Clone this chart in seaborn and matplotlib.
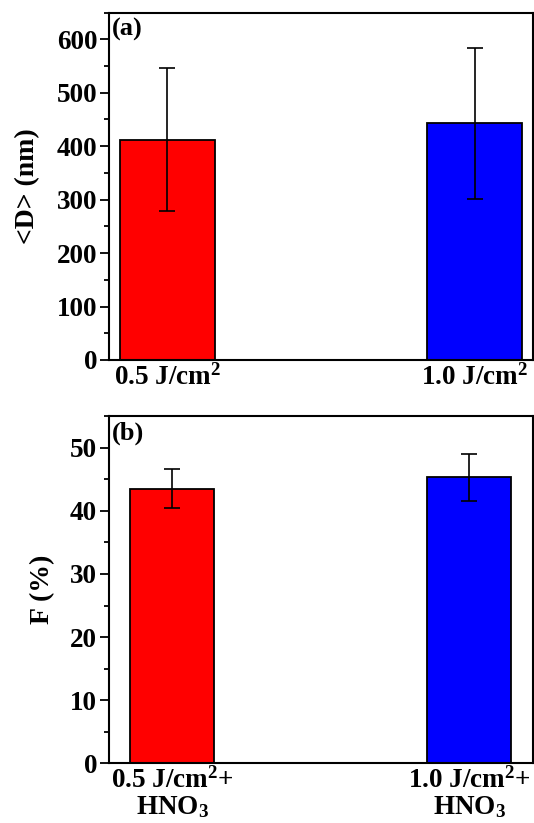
import numpy as np
import matplotlib.pyplot as plt
import seaborn as sns
from matplotlib.ticker import MultipleLocator, AutoMinorLocator

# datos
etiquetas_a = ["0.5 J/cm$^\\mathbf{2}$", "1.0 J/cm$^\\mathbf{2}$"]
diametro = [412, 443]
err_diametro = [134, 141]

etiquetas_b = ["0.5 J/cm$^\\mathbf{2}$+\nHNO$_\\mathbf{3}$", "1.0 J/cm$^\\mathbf{2}$+\nHNO$_\\mathbf{3}$"]
fraccion = [43.5, 45.3]
err_fraccion = [3.1, 3.7]

colores = ["#ff0000", "#0000ff"]

sns.set_style("ticks")
plt.rcParams['font.family'] = ['Liberation Serif', 'DejaVu Serif']
plt.rcParams['font.weight'] = 'bold'
plt.rcParams['mathtext.fontset'] = 'custom'
plt.rcParams['mathtext.rm'] = 'Liberation Serif:bold'
plt.rcParams['mathtext.bf'] = 'Liberation Serif:bold'
plt.rcParams['mathtext.it'] = 'Liberation Serif:bold'
for k in ['text.color', 'axes.labelcolor', 'xtick.color', 'ytick.color', 'axes.edgecolor']:
    plt.rcParams[k] = 'black'

fig = plt.figure(figsize=(5.34, 8.23), dpi=100)
ax1 = fig.add_axes([0.204, 0.5626, 0.794, 0.4221])
ax2 = fig.add_axes([0.204, 0.0724, 0.794, 0.4221])


def panel(ax, etiquetas, valores, errores, ancho, ylim, paso, ylabel, letra, xpad, pad):
    sns.barplot(x=etiquetas, y=valores, hue=etiquetas, palette=colores, legend=False,
                width=ancho, edgecolor="black", linewidth=1.3, saturation=1, ax=ax)
    ax.errorbar(np.arange(len(valores)), valores, yerr=errores, fmt="none",
                ecolor="black", elinewidth=1.2, capsize=6, capthick=1.2)
    ax.set_ylim(*ylim)
    ax.set_xlim(-xpad, len(valores) - 1 + xpad)
    ax.yaxis.set_major_locator(MultipleLocator(paso))
    ax.yaxis.set_minor_locator(AutoMinorLocator(2))
    ax.tick_params(axis="y", which="major", length=6.5, width=1.3, labelsize=19.5, pad=2)
    ax.tick_params(axis="y", which="minor", length=3.5, width=1.3)
    ax.tick_params(axis="x", length=0, labelsize=19.5, pad=3)
    for s in ax.spines.values():
        s.set_linewidth(1.5)
        s.set_visible(True)
    ax.set_ylabel(ylabel, fontsize=20, fontweight="bold", labelpad=pad)
    ax.set_xlabel("")
    ax.text(0.008, 0.985, letra, transform=ax.transAxes, fontsize=19,
            fontweight="bold", va="top", ha="left")
    for t in ax.get_xticklabels() + ax.get_yticklabels():
        t.set_fontweight("bold")
        t.set_linespacing(1.02)


panel(ax1, etiquetas_a, diametro, err_diametro, 0.31, (0, 650), 100, "<D> (nm)", "(a)", 0.19, 12)
panel(ax2, etiquetas_b, fraccion, err_fraccion, 0.283, (0, 55), 10, "F (%)", "(b)", 0.214, 11)

fig.savefig("out.png", dpi=100)
